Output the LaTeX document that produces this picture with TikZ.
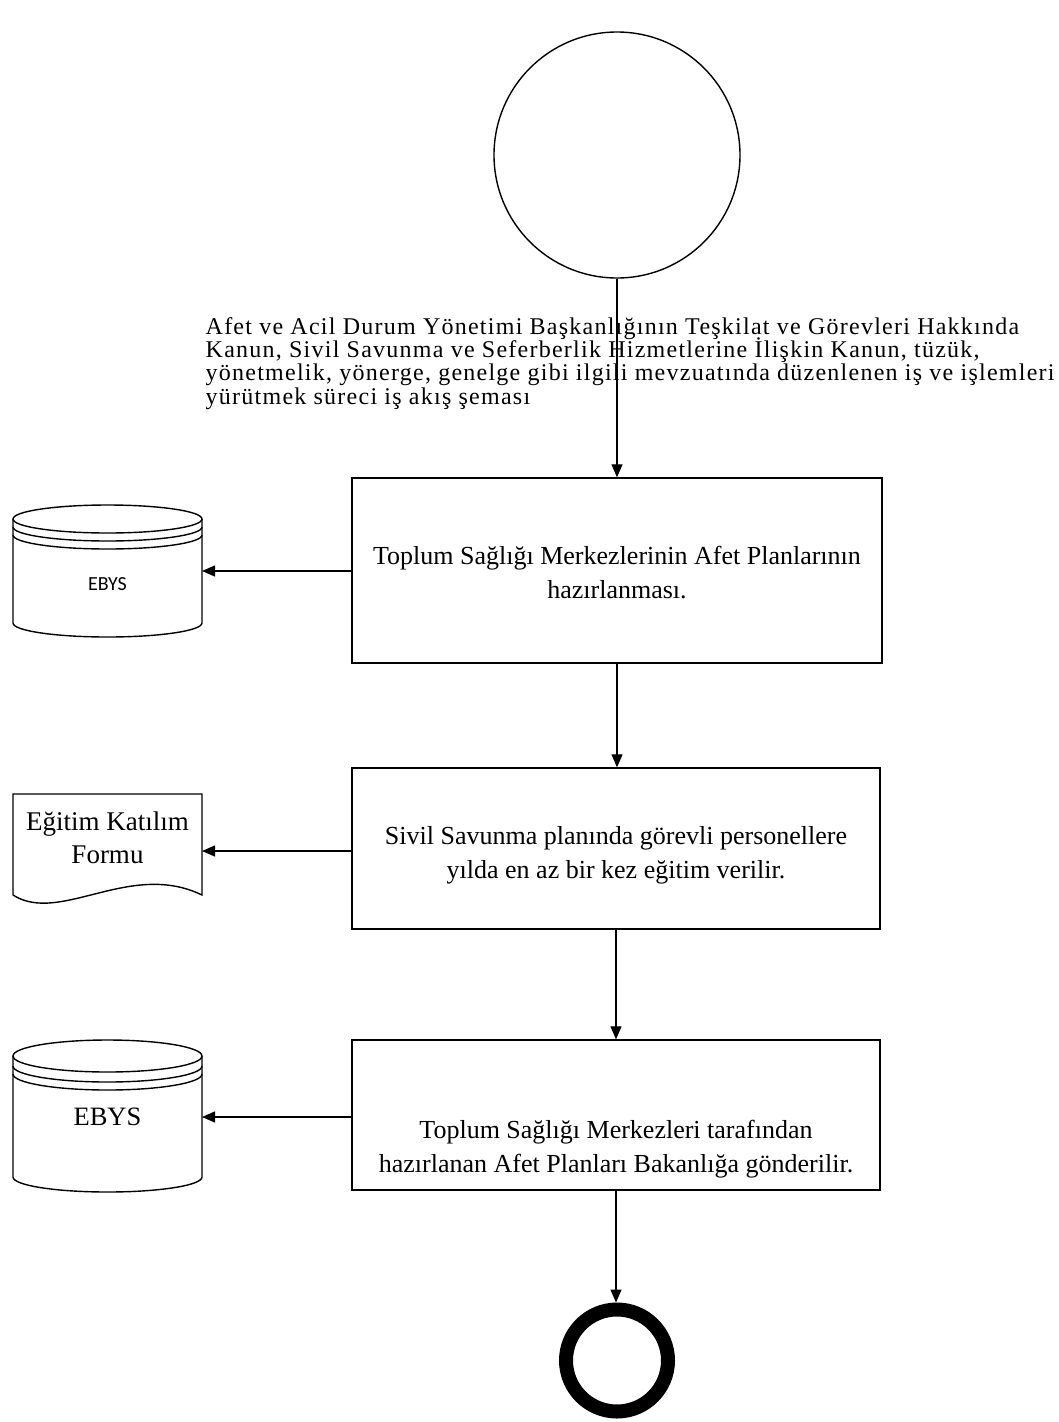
\documentclass[tikz,border=0pt]{standalone}
\usepackage{fontspec}
\setmainfont{Liberation Serif}
\newfontfamily\titlefont[LetterSpace=5.2]{Liberation Serif}
\newfontfamily\calib{Carlito}
\newcommand\tightlines{\lineskiplimit=-50pt\relax}
\usetikzlibrary{arrows.meta}
\begin{document}
\begin{tikzpicture}[x=1pt,y=-1pt,
  line width=1.4pt,
  flow/.style={-{Triangle[length=13pt,width=11pt]}, line width=1.3pt},
  procbox/.style={draw, rectangle, inner sep=0pt},
  boxtext/.style={align=center, font=\fontsize{26}{34}\selectfont\tightlines, inner sep=0pt},
  holder/.style={rectangle, inner sep=0pt, outer sep=0pt}]
\useasboundingbox (0,0) rectangle (1059,1422);

% start circle
\node[draw, circle, minimum size=246pt, inner sep=0pt] (start) at (617,155) {};

% heading text (base anchor = baseline of last line)
\node[anchor=base west, align=left, inner sep=0pt, font=\titlefont\fontsize{24}{23.3}\selectfont\tightlines] (title) at (205,404)
{Afet ve Acil Durum Yönetimi Başkanlığının Teşkilat ve Görevleri Hakkında\\
Kanun, Sivil Savunma ve Seferberlik Hizmetlerine İlişkin Kanun, tüzük,\\
yönetmelik, yönerge, genelge gibi ilgili mevzuatında düzenlenen iş ve işlemleri\\
yürütmek süreci iş akış şeması};

% process boxes
\node[procbox, minimum width=530pt, minimum height=185pt] (b1) at (617,570.5) {};
\node[boxtext] (t1) at (617,573) {Toplum Sağlığı Merkezlerinin Afet Planlarının\\hazırlanması.};
\node[procbox, minimum width=528pt, minimum height=161pt] (b2) at (616,848.5) {};
\node[boxtext] (t2) at (616,855) {Sivil Savunma planında görevli personellere\\yılda en az bir kez eğitim verilir.};
\node[procbox, minimum width=528pt, minimum height=150pt] (b3) at (616,1115) {};
\node[boxtext] (t3) at (616,1149) {Toplum Sağlığı Merkezleri tarafından\\hazırlanan Afet Planları Bakanlığa gönderilir.};

% end circle
\node[draw, circle, line width=14pt, minimum size=102pt, inner sep=0pt] (end) at (617,1360.5) {};

% EBYS cylinder 1
\node[holder, minimum width=189pt, minimum height=132pt] (c1) at (107.5,571) {};
\draw (13,519) -- (13,623) arc[start angle=180, end angle=0, x radius=94.5, y radius=14] -- (202,519);
\draw (107.5,519) ellipse[x radius=94.5, y radius=14];
\draw (202,527) arc[start angle=0, end angle=180, x radius=94.5, y radius=14];
\draw (202,535) arc[start angle=0, end angle=180, x radius=94.5, y radius=14];
\node[font=\calib\fontsize{20}{24}\selectfont, inner sep=0pt] (c1t) at (107.5,584) {EBYS};

% document shape
\node[holder, minimum width=189pt, minimum height=114pt] (d1) at (107.5,851) {};
\draw (13,895) -- (13,794) -- (202,794) -- (202,895)
  .. controls (130,860) and (60,925) .. (13,895);
\node[align=center, font=\fontsize{27}{33}\selectfont, inner sep=0pt] (d1t) at (107.5,838) {Eğitim Katılım\\Formu};

% EBYS cylinder 2
\node[holder, minimum width=189pt, minimum height=152pt] (c2) at (107.5,1117) {};
\draw (13,1056) -- (13,1177) arc[start angle=180, end angle=0, x radius=94.5, y radius=15] -- (202,1056);
\draw (107.5,1056) ellipse[x radius=94.5, y radius=16];
\draw (202,1066) arc[start angle=0, end angle=180, x radius=94.5, y radius=16];
\draw (202,1074) arc[start angle=0, end angle=180, x radius=94.5, y radius=16];
\node[font=\fontsize{26.5}{30}\selectfont, inner sep=0pt] (c2t) at (107.5,1117) {EBYS};

% connectors
\draw[flow] (start.south) -- (b1.north);
\draw[flow] (b1.south) -- (b1.south |- b2.north);
\draw[flow] (b2.south) -- (b2.south |- b3.north);
\draw[flow] (b3.south) -- (b3.south |- end.north);
\draw[flow] (b1.west |- c1.east) -- (c1.east);
\draw[flow] (b2.west |- d1.east) -- (d1.east);
\draw[flow] (b3.west |- c2.east) -- (c2.east);
\end{tikzpicture}
\end{document}
